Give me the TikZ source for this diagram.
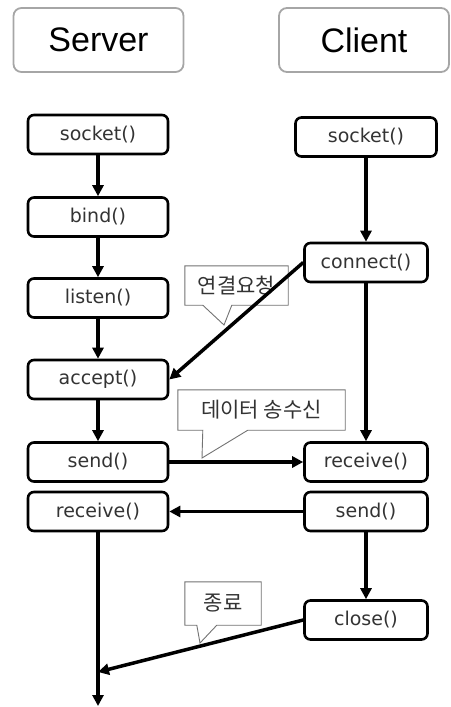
\documentclass[tikz,border=0pt]{standalone}
\usepackage{fontspec}
\setmainfont{DejaVu Sans}
\newfontfamily\headfont{Liberation Sans}
\newfontfamily\krfont{Noto Sans CJK KR}
\usetikzlibrary{arrows.meta,calc}
\tikzset{
  header/.style={draw=black!35,line width=1.8pt,rounded corners=8pt,minimum width=170pt,minimum height=64pt,font=\headfont\fontsize{34}{40}\selectfont},
  fn/.style={draw,line width=2.6pt,rounded corners=6pt,minimum height=39pt,inner sep=0pt,font=\fontsize{19}{22}\selectfont,text=black!80},
  srvfn/.style={fn,minimum width=140pt},
  clifn/.style={fn,minimum width=123pt},
  note/.style={font=\krfont\fontsize{21}{24}\selectfont,text=black!80,inner sep=0pt},
  tail/.style={draw=black!55,line width=0.9pt,fill=white},
  flow/.style={->,line width=3.5pt}
}

\begin{document}
\begin{tikzpicture}[x=1pt,y=-1pt,>={Triangle[length=11pt,width=11pt]}]
  \useasboundingbox (0,0) rectangle (450,707);

  % headers
  \node[header] (server) at (98.5,40) {Server};
  \node[header] (client) at (364,40) {Client};

  % server side
  \node[srvfn] (ssock) at (98,134.5) {socket()};
  \node[srvfn] (sbind) at (98,217) {bind()};
  \node[srvfn] (slisten) at (98,298) {listen()};
  \node[srvfn] (saccept) at (98,379.5) {accept()};
  \node[srvfn] (ssend) at (98,462) {send()};
  \node[srvfn] (srecv) at (98,511.5) {receive()};
  \coordinate (join) at (98,672);
  \coordinate (srvend) at (98,706);

  % client side
  \node[clifn,minimum width=141pt] (csock) at (366,137) {socket()};
  \node[clifn] (cconn) at (366,262.5) {connect()};
  \node[clifn] (crecv) at (366,462) {receive()};
  \node[clifn] (csend) at (366,511.5) {send()};
  \node[clifn] (cclose) at (366,620) {close()};

  % callouts
  \node[note,minimum width=103pt,minimum height=39pt] (req) at (236.5,285.5) {};
  \coordinate (reqtip) at (224,325);
  \draw[tail] (req.south west) -- (req.north west) -- (req.north east) -- (req.south east)
    -- ($(req.south west)+(47,0)$) -- (reqtip) -- ($(req.south west)+(18,0)$) -- cycle;
  \node[note] (reqtxt) at (req) {연결요청};

  \node[note,minimum width=167pt,minimum height=40pt] (data) at (261.5,410) {};
  \coordinate (datatip) at (202,458);
  \draw[tail] (data.south west) -- (data.north west) -- (data.north east) -- (data.south east)
    -- ($(data.south west)+(70,0)$) -- (datatip) -- ($(data.south west)+(25,0)$) -- cycle;
  \node[note] (datatxt) at (data) {데이터 송수신};

  \node[note,minimum width=76pt,minimum height=43pt] (fin) at (223,603.5) {};
  \coordinate (fintip) at (200,643);
  \draw[tail] (fin.south west) -- (fin.north west) -- (fin.north east) -- (fin.south east)
    -- ($(fin.south west)+(32,0)$) -- (fintip) -- ($(fin.south west)+(12,0)$) -- cycle;
  \node[note] (fintxt) at (fin) {종료};

  % flow
  \draw[flow] (ssock) -- (sbind);
  \draw[flow] (sbind) -- (slisten);
  \draw[flow] (slisten) -- (saccept);
  \draw[flow] (saccept) -- (ssend);
  \draw[flow] (srecv) -- (srvend);
  \draw[flow] (csock) -- (cconn);
  \draw[flow] (cconn) -- (crecv);
  \draw[flow] (csend) -- (cclose);
  \draw[flow] (cconn.west) -- (saccept.east);
  \draw[flow] (ssend) -- (crecv);
  \draw[flow] (csend) -- (srecv);
  \draw[flow] (cclose.west) -- (join);
\end{tikzpicture}
\end{document}
